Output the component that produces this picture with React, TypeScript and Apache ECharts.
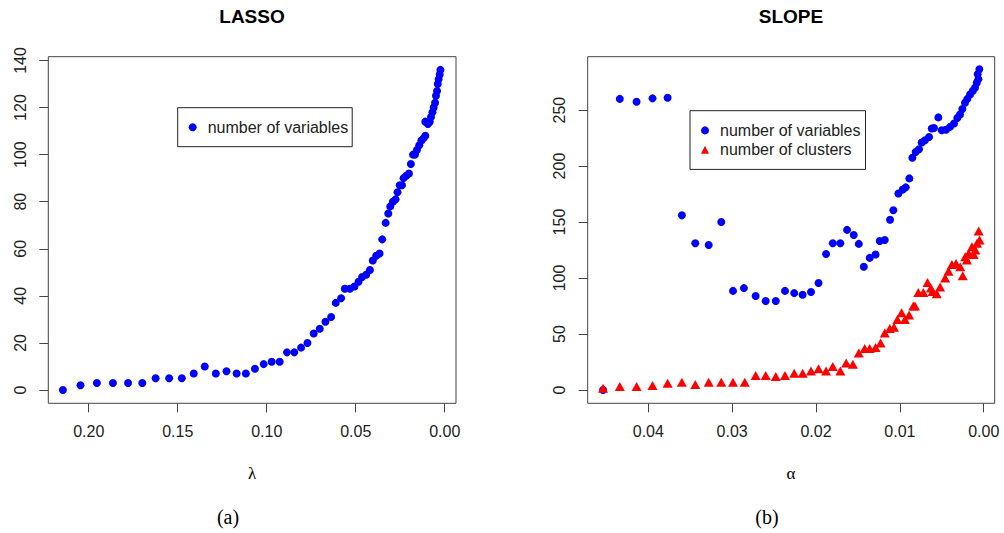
import React, { useEffect, useRef } from "react";
import * as echarts from "echarts";

// ---- LASSO panel data ----
const lassoLambda = [
  0.2145, 0.2046, 0.1954, 0.1864, 0.1779, 0.1699, 0.1624, 0.1548, 0.1477, 0.141,
  0.1348, 0.1286, 0.1226, 0.1169, 0.1117, 0.1066, 0.1017, 0.0972, 0.0927, 0.0886,
  0.0845, 0.0807, 0.0771, 0.0736, 0.0702, 0.067, 0.0638, 0.0612, 0.0582, 0.0561,
  0.0533, 0.0507, 0.0484, 0.0464, 0.0441, 0.042, 0.0404, 0.0385, 0.0366, 0.0351,
  0.0332, 0.0317, 0.0306, 0.0291, 0.0276, 0.0265, 0.0253, 0.024, 0.0231, 0.0216,
  0.0201, 0.019, 0.0178, 0.0167, 0.0156, 0.0143, 0.0131, 0.0118, 0.0109, 0.0109,
  0.0094, 0.0084, 0.0077, 0.0069, 0.0062, 0.0054, 0.0049, 0.0043, 0.0039, 0.0034,
  0.0028, 0.0024,
];
const lassoVars = [
  0, 2, 3, 3, 3, 3, 5, 5, 5, 7,
  10, 7, 8, 7, 7, 9, 11, 12, 12, 16,
  16, 18, 20, 24, 26, 29, 31, 37, 39, 43,
  43, 44, 46, 48, 49, 51, 55, 57, 58, 64,
  71, 75, 78, 80, 81, 84, 87, 87, 90, 91,
  92, 96, 100, 100, 102, 104, 106, 107, 108, 114,
  113, 114, 116, 118, 120, 122, 125, 127, 130, 132,
  134, 136,
];

// ---- SLOPE panel data ----
const slopeAlphaV = [
  0.0454, 0.0434, 0.0414, 0.0395, 0.0377, 0.036, 0.0344, 0.0328, 0.0313, 0.0299,
  0.0286, 0.0272, 0.026, 0.0248, 0.0237, 0.0226, 0.0216, 0.0206, 0.0197, 0.0188,
  0.018, 0.0171, 0.0163, 0.0155, 0.0149, 0.0143, 0.0136, 0.0129, 0.0124, 0.0118,
  0.01117, 0.01078, 0.01018, 0.00966, 0.0093, 0.00887, 0.00851, 0.00811, 0.00772, 0.0074,
  0.007, 0.00652, 0.0062, 0.00593, 0.00541, 0.00501, 0.0045, 0.00402, 0.00354, 0.00315,
  0.00283, 0.00255, 0.00223, 0.00196, 0.00163, 0.00131, 0.00104, 0.00083, 0.00072, 0.00052,
  0.00064,
];
const slopeVars = [
  0, 260, 257.5, 260.5, 261, 156, 131, 129.5, 150, 88.5,
  91, 84, 79.5, 79.5, 88.5, 86.5, 85, 87.5, 95.5, 121.5,
  131, 131, 143, 138.5, 130.5, 110, 118, 121, 133, 134,
  152, 160.5, 175.5, 179, 181, 189, 207.5, 212.5, 215, 221,
  223, 226, 233.5, 234, 243.5, 232, 232.5, 235, 238, 243,
  246, 251, 256.5, 260, 264, 267, 270, 274.5, 282, 286.5,
  277.5,
];
const slopeAlphaC = [
  0.0454, 0.0434, 0.0414, 0.0395, 0.0377, 0.036, 0.0344, 0.0328, 0.0313, 0.0299,
  0.0285, 0.0272, 0.026, 0.0248, 0.0237, 0.0226, 0.0216, 0.0206, 0.0197, 0.0188,
  0.018, 0.0171, 0.0164, 0.0156, 0.0149, 0.0142, 0.0136, 0.0129, 0.0123, 0.0118,
  0.0112, 0.0107, 0.0103, 0.0098, 0.0094, 0.0089, 0.0084, 0.0082, 0.0078, 0.0072,
  0.0067, 0.0063, 0.0061, 0.0056, 0.0052, 0.0046, 0.0042, 0.0038, 0.0033, 0.0028,
  0.0025, 0.0022, 0.002, 0.0018, 0.0014, 0.0012, 0.001, 0.0008, 0.0006, 0.0005,
];
const slopeClusters = [
  1.5, 3, 3, 4, 6, 7, 5, 7, 7, 7,
  7, 13, 13, 12, 13, 15, 15, 17, 19, 17,
  21, 17, 24, 23, 33, 37, 37, 38, 42, 51,
  55, 56, 63, 69, 63, 67, 75, 75, 87, 87,
  96, 91, 88, 86, 92, 100, 106, 112, 113, 110,
  102, 119, 116, 122, 128, 121, 125, 131, 142, 134,
];

// ---- axes ----
const lassoXTicks = [0, 0.05, 0.1, 0.15, 0.2];
const lassoYTicks = [0, 20, 40, 60, 80, 100, 120, 140];
const slopeXTicks = [0, 0.01, 0.02, 0.03, 0.04];
const slopeYTicks = [0, 50, 100, 150, 200, 250];

const titles = ["LASSO", "SLOPE"];
const xNames = ["λ", "α"];
const captions = ["(a)", "(b)"];
const seriesNames = ["number of variables", "number of clusters"];

const FONT = "'Liberation Sans', Arial, Helvetica, sans-serif";
const SERIF = "'Liberation Serif', 'DejaVu Serif', serif";
const INK = "#222";
const BOX = "#444";

function xAxis(gridIndex: number, min: number, max: number, ticks: number[]) {
  return {
    type: "value",
    gridIndex,
    min,
    max,
    inverse: true,
    splitLine: { show: false },
    axisLine: { show: false, onZero: false },
    axisTick: { show: true, length: 9, customValues: ticks, lineStyle: { color: BOX, width: 1 } },
    axisLabel: {
      customValues: ticks,
      margin: 20,
      color: INK,
      fontSize: 16,
      fontFamily: FONT,
      formatter: (v: number) => v.toFixed(2),
    },
  };
}

function yAxis(gridIndex: number, min: number, max: number, ticks: number[]) {
  return {
    type: "value",
    gridIndex,
    min,
    max,
    splitLine: { show: false },
    axisLine: { show: false, onZero: false },
    axisTick: { show: true, length: 9, customValues: ticks, lineStyle: { color: BOX, width: 1 } },
    axisLabel: {
      customValues: ticks,
      rotate: 90,
      margin: 20,
      color: INK,
      fontSize: 16,
      fontFamily: FONT,
      formatter: (v: number) => String(Math.round(v)),
    },
  };
}

export default function App() {
  const ref = useRef<HTMLDivElement>(null);

  useEffect(() => {
    if (!ref.current) return;
    const chart = echarts.init(ref.current, null, { renderer: "svg" });

    const lassoPts = lassoLambda.map((x, i) => [x, lassoVars[i]]);
    const slopeVPts = slopeAlphaV.map((x, i) => [x, slopeVars[i]]);
    const slopeCPts = slopeAlphaC.map((x, i) => [x, slopeClusters[i]]);

    const textStyleBase = { fill: "#000", fontFamily: FONT };

    chart.setOption({
      animation: false,
      backgroundColor: "#fff",
      grid: [
        { left: 48.3, top: 56.7, width: 407.7, height: 346.6, show: true, borderColor: BOX, borderWidth: 1, backgroundColor: "transparent" },
        { left: 587.7, top: 56.7, width: 407, height: 346.6, show: true, borderColor: BOX, borderWidth: 1, backgroundColor: "transparent" },
      ],
      xAxis: [
        xAxis(0, -0.00635, 0.2227, lassoXTicks),
        xAxis(1, -0.00131, 0.04723, slopeXTicks),
      ],
      yAxis: [
        yAxis(0, -5.65, 141.6, lassoYTicks),
        yAxis(1, -11.9, 297.7, slopeYTicks),
      ],
      legend: [
        {
          data: [{ name: seriesNames[0], icon: "circle" }],
          left: 177.7,
          top: 107.7,
          orient: "vertical",
          borderColor: "#222",
          borderWidth: 1,
          borderRadius: 0,
          padding: [11.5, 4, 11.5, 11],
          itemWidth: 8,
          itemHeight: 8,
          itemGap: 3,
          textStyle: { fontSize: 16, fontFamily: FONT, color: INK, padding: [0, 0, 0, 6], lineHeight: 16 },
          selectedMode: false,
        },
        {
          data: [
            { name: seriesNames[0], icon: "circle" },
            { name: seriesNames[1], icon: "triangle" },
          ],
          left: 690,
          top: 110.7,
          orient: "vertical",
          borderColor: "#222",
          borderWidth: 1,
          borderRadius: 0,
          padding: [11.7, 5, 11.7, 11],
          itemWidth: 8,
          itemHeight: 8,
          itemGap: 3.3,
          textStyle: { fontSize: 16, fontFamily: FONT, color: INK, padding: [0, 0, 0, 6], lineHeight: 16 },
          selectedMode: false,
        },
      ],
      series: [
        {
          type: "scatter",
          name: seriesNames[0],
          xAxisIndex: 0,
          yAxisIndex: 0,
          data: lassoPts,
          symbol: "circle",
          symbolSize: 8,
          itemStyle: { color: "#0000ff", opacity: 1 },
        },
        {
          type: "scatter",
          name: seriesNames[0],
          xAxisIndex: 1,
          yAxisIndex: 1,
          data: slopeVPts,
          symbol: "circle",
          symbolSize: 8,
          itemStyle: { color: "#0000ff", opacity: 1 },
        },
        {
          type: "scatter",
          name: seriesNames[1],
          xAxisIndex: 1,
          yAxisIndex: 1,
          data: slopeCPts,
          symbol: "triangle",
          symbolSize: [10, 9],
          itemStyle: { color: "#ff0000", opacity: 1 },
        },
      ],
      graphic: [
        { type: "text", x: 252, y: 16, style: { ...textStyleBase, text: titles[0], fontSize: 19, fontWeight: "bold", textAlign: "center", textVerticalAlign: "middle" } },
        { type: "text", x: 791, y: 16, style: { ...textStyleBase, text: titles[1], fontSize: 19, fontWeight: "bold", textAlign: "center", textVerticalAlign: "middle" } },
        { type: "text", x: 252, y: 473, style: { fill: "#000", fontFamily: SERIF, text: xNames[0], fontSize: 17, textAlign: "center", textVerticalAlign: "middle" } },
        { type: "text", x: 791, y: 473, style: { fill: "#000", fontFamily: SERIF, text: xNames[1], fontSize: 17, textAlign: "center", textVerticalAlign: "middle" } },
        { type: "text", x: 228, y: 517, style: { fill: "#000", fontFamily: SERIF, text: captions[0], fontSize: 20, textAlign: "center", textVerticalAlign: "middle" } },
        { type: "text", x: 767, y: 517, style: { fill: "#000", fontFamily: SERIF, text: captions[1], fontSize: 20, textAlign: "center", textVerticalAlign: "middle" } },
      ],
    });

    return () => {
      chart.dispose();
    };
  }, []);

  return (
    <div
      ref={ref}
      style={{ position: "absolute", left: 0, top: 0, width: 1004, height: 533, background: "#fff" }}
    />
  );
}
